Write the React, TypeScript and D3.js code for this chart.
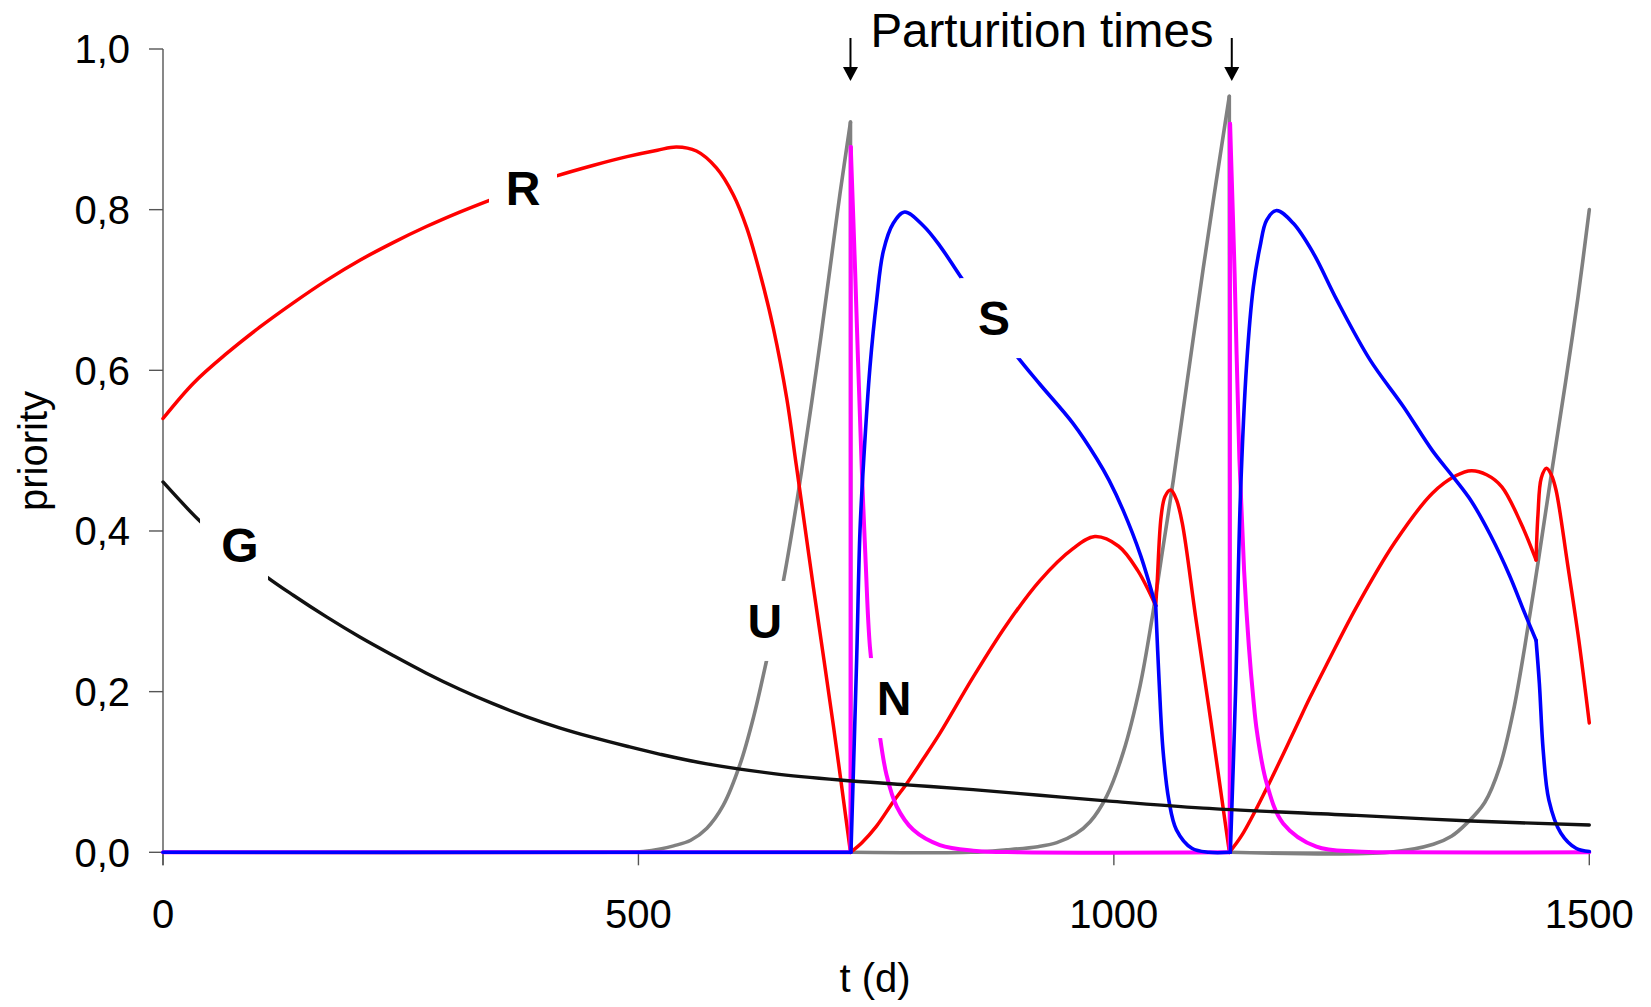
import React from 'react';
import * as d3 from 'd3';

const W = 1651;
const H = 1007;

const xTicks = [0, 500, 1000, 1500];
const yTicks = [0, 0.2, 0.4, 0.6, 0.8, 1.0];
const parturitionTimes = [723, 1124];

// R (red)
const seriesR: [number, number][] = [
  [0, 0.54], [32, 0.584], [67, 0.621], [102, 0.654], [137, 0.684], [172, 0.712], [207, 0.737], [242, 0.759],
  [277, 0.779], [312, 0.797], [344, 0.812], [380, 0.828], [414, 0.842], [452, 0.855], [488, 0.866], [520, 0.874],
  [540, 0.878], [561, 0.873], [582, 0.852], [600, 0.818], [614, 0.777], [628, 0.72], [642, 0.652], [656, 0.565],
  [666, 0.482], [684, 0.33], [705, 0.158], [723, 0],
  [735, 0.012], [750, 0.032], [768, 0.063], [783, 0.087], [800, 0.117], [817, 0.148], [852, 0.218], [887, 0.283],
  [922, 0.338], [957, 0.378], [980, 0.393], [1005, 0.381], [1025, 0.351], [1044, 0.307],
  [1045.5, 0.335], [1049.7, 0.418], [1053.8, 0.443], [1059.8, 0.451], [1065.8, 0.439], [1071.9, 0.41],
  [1086, 0.293], [1102, 0.163], [1121.5, 0],
  [1135, 0.022], [1160, 0.078], [1190, 0.152], [1206, 0.192], [1223, 0.232], [1255, 0.305], [1295, 0.385],
  [1335, 0.447], [1360, 0.469], [1376, 0.475], [1392, 0.47], [1408, 0.455], [1428, 0.41], [1444, 0.364],
  [1446, 0.42], [1449.5, 0.466], [1455, 0.478], [1460, 0.47], [1465, 0.451], [1477, 0.36], [1489, 0.264], [1500, 0.161],
];
const cornersR = [723, 1044, 1121.5, 1444];

// G (black)
const seriesG: [number, number][] = [
  [0, 0.461], [39, 0.412], [74, 0.376], [109, 0.343], [137, 0.32], [172, 0.293], [207, 0.268], [242, 0.245],
  [277, 0.223], [312, 0.203], [347, 0.185], [382, 0.169], [417, 0.155], [452, 0.143], [488, 0.132], [523, 0.122],
  [572, 0.11], [642, 0.098], [712, 0.09], [782, 0.084], [852, 0.078], [922, 0.071], [992, 0.064], [1094, 0.055],
  [1255, 0.046], [1376, 0.039], [1500, 0.034],
];
const cornersG: number[] = [];

// U (grey)
const seriesU: [number, number][] = [
  [0, 0], [480, 0], [505, 0.001], [523, 0.004], [537, 0.008], [555, 0.015], [572, 0.03], [589, 0.058],
  [607, 0.11], [621, 0.168], [635, 0.24], [652, 0.335], [663, 0.41], [672, 0.478], [687.5, 0.604],
  [701.5, 0.727], [712, 0.82], [723, 0.909], [723.5, 0],
  [850, 0], [887, 0.003], [920, 0.007], [940, 0.012], [960, 0.023], [975, 0.038], [992.5, 0.07], [1010, 0.125],
  [1027.5, 0.207], [1040, 0.29], [1052, 0.382], [1062.5, 0.463], [1076.6, 0.582], [1094, 0.727], [1108, 0.838],
  [1121.4, 0.941], [1122, 0],
  [1290, 0], [1336, 0.01], [1355, 0.02], [1371, 0.036], [1390, 0.062], [1406, 0.107], [1420, 0.175],
  [1432, 0.255], [1446, 0.36], [1460, 0.47], [1475, 0.585], [1488, 0.69], [1500, 0.8],
];
const cornersU = [723, 723.5, 1121.4, 1122];

// N (magenta)
const seriesN: [number, number][] = [
  [0, 0], [723, 0], [723.3, 0.878], [728, 0.72], [731, 0.61], [734.5, 0.49], [739, 0.36], [743.5, 0.255],
  [754, 0.144], [761, 0.096], [771.6, 0.057], [789, 0.028], [817, 0.009], [852, 0.002], [900, 0],
  [1121.8, 0], [1122.2, 0.907], [1127, 0.72], [1132, 0.49], [1137, 0.35], [1142, 0.256], [1146.6, 0.192],
  [1150.5, 0.15], [1160.7, 0.086], [1178, 0.036], [1213, 0.007], [1255, 0.001], [1300, 0], [1500, 0],
];
const cornersN = [723, 723.3, 1121.8, 1122.2];

// S (blue)
const seriesS: [number, number][] = [
  [0, 0], [723.5, 0], [729.5, 0.24], [733, 0.4], [737, 0.49], [743.5, 0.604], [750.6, 0.688], [757.5, 0.748],
  [768, 0.783], [780, 0.797], [799.6, 0.78], [817, 0.755], [838, 0.718], [868, 0.667], [897.8, 0.618],
  [922, 0.583], [957, 0.534], [982, 0.49], [995, 0.463], [1010, 0.425], [1028, 0.37], [1044, 0.307],
  [1047.7, 0.21], [1051.7, 0.127], [1057.8, 0.065], [1065.8, 0.028], [1082, 0.005], [1100, 0], [1122.5, 0],
  [1128, 0.2], [1133, 0.44], [1139.7, 0.609], [1146.7, 0.704], [1153.7, 0.754], [1160.7, 0.787], [1171, 0.799],
  [1188.7, 0.783], [1209.7, 0.746], [1234.3, 0.688], [1269.4, 0.613], [1304.4, 0.555], [1335, 0.5],
  [1357, 0.467], [1376, 0.437], [1396, 0.395], [1416, 0.345], [1432, 0.298], [1444, 0.264],
  [1447.5, 0.21], [1451.5, 0.127], [1457.5, 0.065], [1470, 0.024], [1486, 0.005], [1500, 0.001],
];
const cornersS = [723.5, 1044, 1122.5, 1444];

const seriesNames = ['U', 'R', 'N', 'S', 'G'];
const seriesColors = ['#808080', '#ff0000', '#ff00ff', '#0000ff', '#111111'];
const seriesWidths = [3.6, 3.5, 4, 3.6, 3.4];

// label anchors (data units) for the in-plot series names
const labelNames = ['R', 'G', 'U', 'N', 'S'];
const labelT = [378.6, 81, 633, 768.8, 874];
const labelV = [0.827, 0.383, 0.288, 0.192, 0.665];

const FONT = "'Liberation Sans', Arial, Helvetica, sans-serif";

function splitAt(data: [number, number][], corners: number[]) {
  const segs: [number, number][][] = [];
  let cur: [number, number][] = [];
  data.forEach((p) => {
    cur.push(p);
    if (corners.includes(p[0]) && cur.length > 1) {
      segs.push(cur);
      cur = [p];
    }
  });
  if (cur.length > 1) segs.push(cur);
  return segs;
}

export default function App() {
  const x = d3.scaleLinear().domain([0, 1500]).range([163, 1589.3]);
  const y = d3.scaleLinear().domain([0, 1]).range([852.3, 49]);

  const line = d3
    .line<[number, number]>()
    .x((d) => x(d[0]))
    .y((d) => Math.min(y(0), y(d[1])))
    .curve(d3.curveCatmullRom.alpha(0.5));

  const dataByName: Record<string, [[number, number][], number[]]> = {
    R: [seriesR, cornersR],
    G: [seriesG, cornersG],
    U: [seriesU, cornersU],
    N: [seriesN, cornersN],
    S: [seriesS, cornersS],
  };

  const fmt = (v: number) => d3.format('.1f')(v).replace('.', ',');

  return (
    <svg
      width={W}
      height={H}
      style={{ position: 'absolute', left: 0, top: 0, display: 'block', background: '#fff' }}
      fontFamily={FONT}
    >
      <rect x={0} y={0} width={W} height={H} fill="#fff" />

      {/* axes */}
      <line x1={x(0)} x2={x(0)} y1={y(1)} y2={y(0) + 13} stroke="#555" strokeWidth={1.4} />
      <line x1={x(0)} x2={x(1500)} y1={y(0)} y2={y(0)} stroke="#555" strokeWidth={1.4} />
      {yTicks.map((t) => (
        <g key={'yt' + t}>
          <line x1={x(0) - 14} x2={x(0)} y1={y(t)} y2={y(t)} stroke="#555" strokeWidth={1.4} />
          <text x={130} y={y(t) + 14.3} fontSize={40} textAnchor="end" fill="#000">
            {fmt(t)}
          </text>
        </g>
      ))}
      {xTicks.map((t) => (
        <g key={'xt' + t}>
          <line x1={x(t)} x2={x(t)} y1={y(0)} y2={y(0) + 13} stroke="#555" strokeWidth={1.4} />
          <text x={x(t)} y={928} fontSize={40} textAnchor="middle" fill="#000">
            {t}
          </text>
        </g>
      ))}
      <text x={875} y={992} fontSize={40} textAnchor="middle" fill="#000">
        t (d)
      </text>
      <text transform={`translate(47, 451) rotate(-90)`} fontSize={40} textAnchor="middle" fill="#000">
        priority
      </text>

      {/* series */}
      {seriesNames.map((name, i) => {
        const [data, corners] = dataByName[name];
        return (
          <g key={name}>
            {splitAt(data, corners).map((seg, j) => (
              <path
                key={j}
                d={line(seg) || ''}
                fill="none"
                stroke={seriesColors[i]}
                strokeWidth={seriesWidths[i]}
                strokeLinejoin="round"
                strokeLinecap="round"
              />
            ))}
          </g>
        );
      })}

      {/* series labels with white boxes */}
      {labelNames.map((n, i) => {
        const cx = x(labelT[i]);
        const cy = y(labelV[i]);
        const bx = n === 'G' ? cx - 6 : cx;
        return (
          <g key={'lab' + n}>
            <rect x={bx - 34} y={cy - 40} width={68} height={80} fill="#fff" />
            <text x={cx} y={cy + 17} fontSize={48} fontWeight="bold" textAnchor="middle" fill="#000">
              {n}
            </text>
          </g>
        );
      })}

      {/* parturition annotation */}
      <text x={1042} y={47} fontSize={47.5} textAnchor="middle" fill="#000">
        Parturition times
      </text>
      {parturitionTimes.map((t) => {
        const px = x(t);
        return (
          <g key={'arr' + t}>
            <line x1={px} x2={px} y1={38} y2={70} stroke="#000" strokeWidth={2} />
            <polygon points={`${px - 7.5},67 ${px + 7.5},67 ${px},81`} fill="#000" />
          </g>
        );
      })}
    </svg>
  );
}
